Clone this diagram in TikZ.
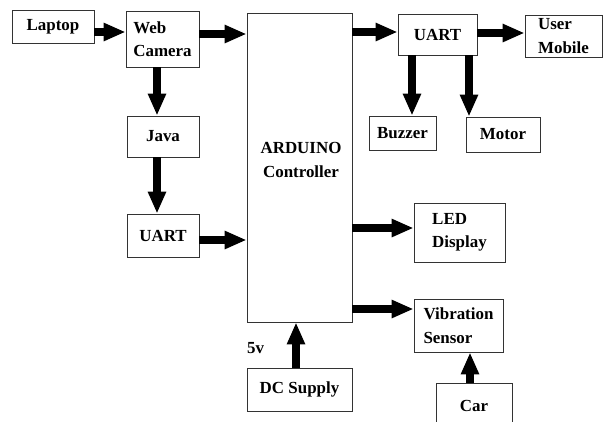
\documentclass[tikz,border=0pt]{standalone}
\usepackage{fontspec}
\setmainfont{Liberation Serif}
\usetikzlibrary{arrows.meta}
\tikzset{
  box/.style={draw=black!80, line width=0.8bp, inner sep=0pt, align=left,
    font=\fontsize{17}{23.5}\selectfont\bfseries},
  arr/.style={line width=8bp, -{Triangle[length=22bp,width=17bp]}},
  lbl/.style={inner sep=0pt, font=\fontsize{17}{23.5}\selectfont\bfseries}
}
\begin{document}
\begin{tikzpicture}[x=1bp,y=-1bp]
\useasboundingbox (0,0) rectangle (603,421);
\clip (0,0) rectangle (603,421);
\fill[white] (0,0) rectangle (603,421);
% boxes
\node[box, minimum width=82bp, minimum height=33bp] (laptop) at (53,26.5) {Laptop};
\node[box, minimum width=73bp, minimum height=56bp] (web) at (162.5,39) {Web\\Camera};
\node[box, minimum width=72bp, minimum height=41bp] (java) at (163,136.5) {Java};
\node[box, minimum width=72bp, minimum height=43bp] (uartL) at (163,235.5) {UART};
\node[box, minimum width=105bp, minimum height=309bp, align=center] (ard) at (299.5,167.5) {};
\node[lbl, align=center] (ardtxt) at (301,160) {ARDUINO\\Controller};
\node[box, minimum width=105bp, minimum height=43bp] (dc) at (299.5,389.5) {DC Supply};
\node[lbl, anchor=base west] (fivev) at (247,353) {5v};
\node[box, minimum width=79bp, minimum height=41bp] (uartR) at (437.5,34.5) {UART};
\node[box, minimum width=77bp, minimum height=42bp] (mobile) at (563.5,36) {User\\Mobile};
\node[box, minimum width=67bp, minimum height=34bp] (buzzer) at (402.5,133) {Buzzer};
\node[box, minimum width=74bp, minimum height=35bp] (motor) at (503,134.5) {Motor};
\node[box, minimum width=91bp, minimum height=59bp] (led) at (459.5,232.5) {LED\\Display};
\node[box, minimum width=89bp, minimum height=53bp] (vib) at (458.5,325.5) {Vibration\\Sensor};
\node[box, minimum width=76bp, minimum height=46bp] (car) at (474,406) {Car};
% arrows
\draw[arr] (laptop.east |- 0,32) -- (web.west |- 0,32);
\draw[arr] (web.east |- 0,34) -- (ard.west |- 0,34);
\draw[arr] (web.south -| 157,0) -- (java.north -| 157,0);
\draw[arr] (java.south -| 157,0) -- (uartL.north -| 157,0);
\draw[arr] (uartL.east |- 0,240) -- (ard.west |- 0,240);
\draw[arr] (ard.east |- 0,32) -- (uartR.west |- 0,32);
\draw[arr] (uartR.east |- 0,33) -- (mobile.west |- 0,33);
\draw[arr] (uartR.south -| 412,0) -- (buzzer.north -| 412,0);
\draw[arr] (uartR.south -| 469,0) -- (motor.north -| 469,0);
\draw[arr] (ard.east |- 0,228) -- (led.west |- 0,228);
\draw[arr] (ard.east |- 0,309) -- (vib.west |- 0,309);
\draw[arr] (dc.north -| 296,0) -- (ard.south -| 296,0);
\draw[arr] (car.north -| 470,0) -- (vib.south -| 470,0);
\end{tikzpicture}
\end{document}
